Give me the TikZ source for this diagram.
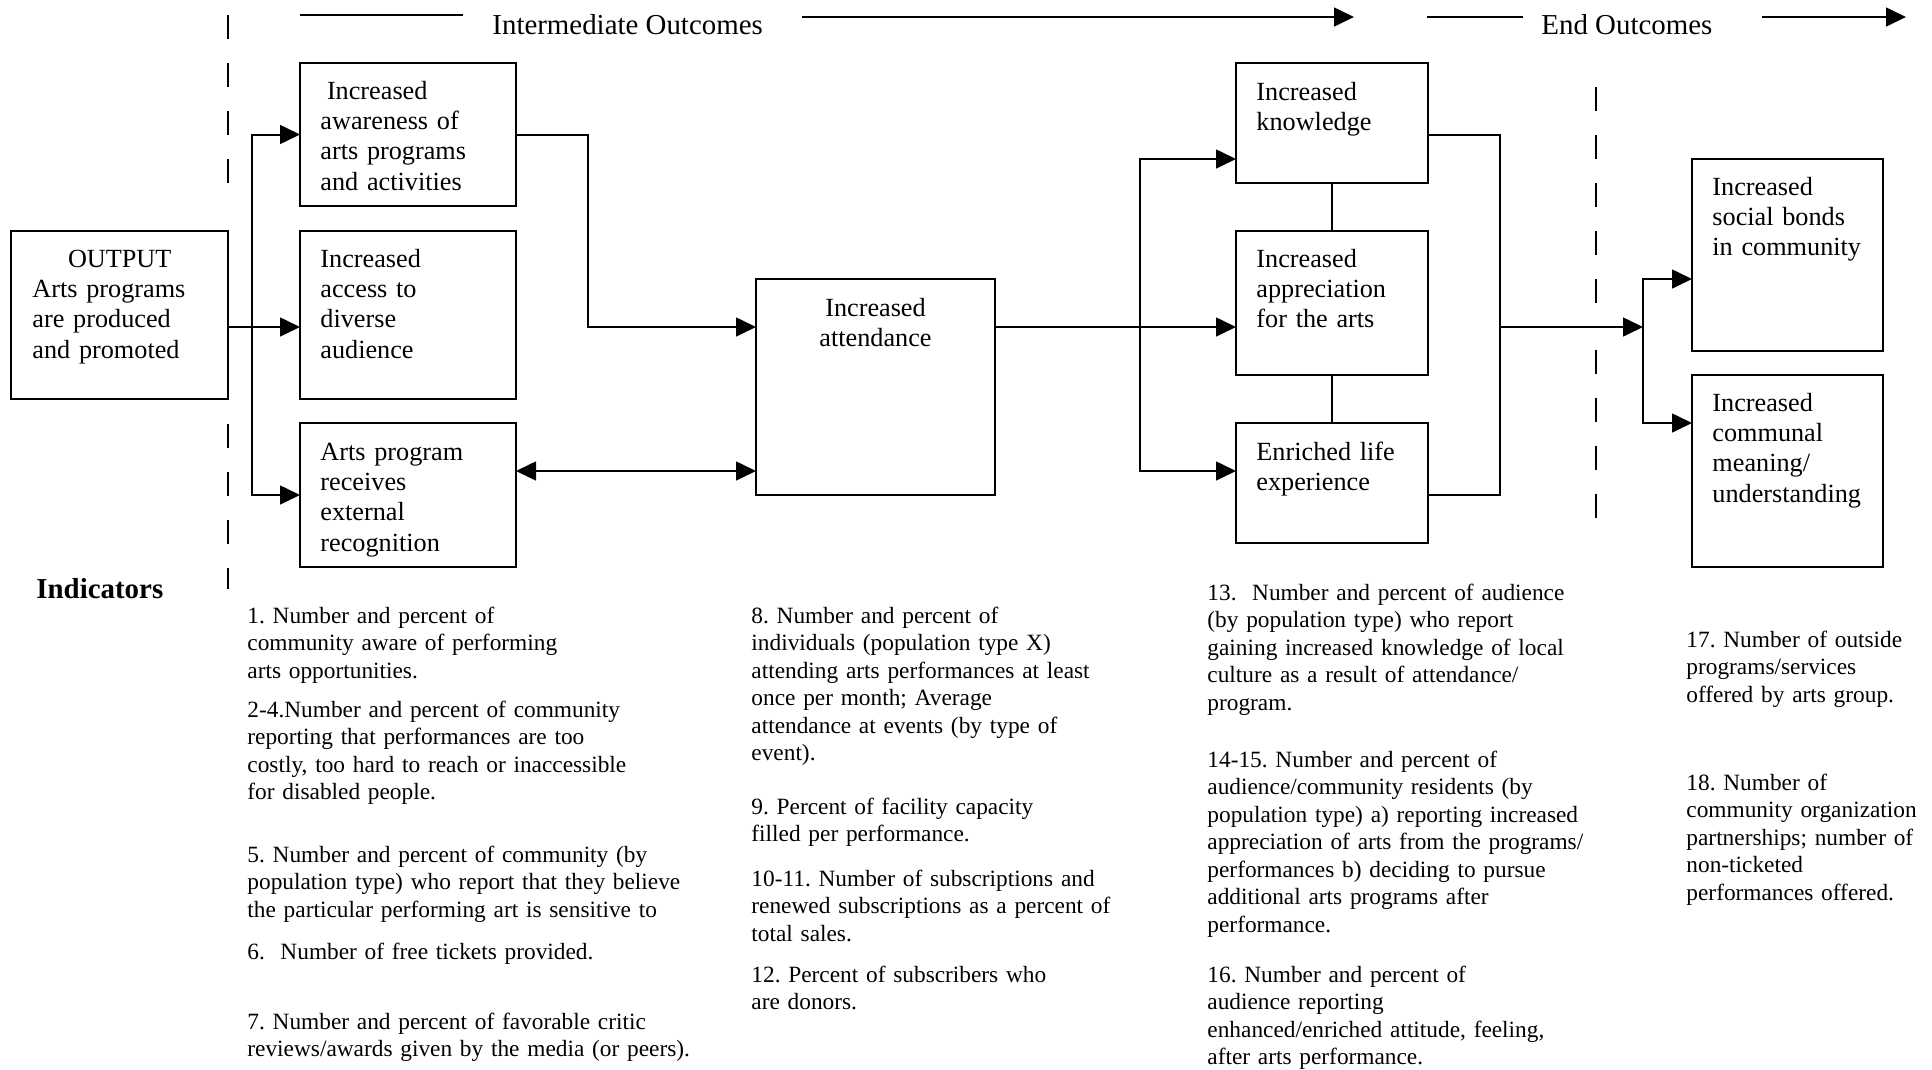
\documentclass[tikz,border=0pt]{standalone}
\usepackage{fontspec}
\setmainfont{Liberation Serif}
\usetikzlibrary{arrows.meta}
\frenchspacing
\begin{document}
\frenchspacing
\begin{tikzpicture}[x=0.45pt,y=-0.45pt,
  box/.style={draw,line width=1pt,inner sep=0pt,outer sep=0pt},
  btxt/.style={inner sep=0pt,anchor=base west,text width=110pt,align=left,font=\fontsize{11.8}{13.7}\selectfont},
  itxt/.style={inner sep=0pt,anchor=base west,text width=205pt,align=left,font=\fontsize{10.5}{12.4}\selectfont},
  htxt/.style={inner sep=0pt,anchor=base west,font=\fontsize{13}{15}\selectfont},
  ln/.style={line width=0.9pt},
  arr/.style={ln,-{Triangle[length=9pt,width=8.5pt]}},
  dbl/.style={ln,{Triangle[length=9pt,width=8.5pt]}-{Triangle[length=9pt,width=8.5pt]}},
  dsh/.style={ln,dash pattern=on 10.8pt off 10.8pt},
]
\useasboundingbox (0,0) rectangle (1932,1070);

% boxes
\node[box,minimum width=97.65pt,minimum height=75.6pt] (out) at (119.5,315) {};
\node[box,minimum width=97.2pt,minimum height=64.35pt] (A) at (408,134.5) {};
\node[box,minimum width=97.2pt,minimum height=75.6pt] (B) at (408,315) {};
\node[box,minimum width=97.2pt,minimum height=64.8pt] (C) at (408,495) {};
\node[box,minimum width=107.55pt,minimum height=97.2pt] (att) at (875.5,387) {};
\node[box,minimum width=86.4pt,minimum height=54pt] (K) at (1332,123) {};
\node[box,minimum width=86.4pt,minimum height=64.8pt] (P) at (1332,303) {};
\node[box,minimum width=86.4pt,minimum height=54pt] (E) at (1332,483) {};
\node[box,minimum width=85.95pt,minimum height=86.4pt] (S) at (1787.5,255) {};
\node[box,minimum width=85.95pt,minimum height=86.4pt] (M) at (1787.5,471) {};

% box texts
\node[btxt] (outT) at (32,267) {\hspace*{16pt}OUTPUT\\Arts programs\\are produced\\and promoted};
\node[btxt] (AT) at (320,99) {\hspace*{0.25em}Increased\\awareness of\\arts programs\\and activities};
\node[btxt] (BT) at (320,267) {Increased\\access to\\diverse\\audience};
\node[btxt] (CT) at (320,460) {Arts program\\receives\\external\\recognition};
\node[btxt,align=center,anchor=base,text width=107pt] (attT) at (875.5,316) {Increased\\attendance};
\node[btxt] (KT) at (1256,100) {Increased\\knowledge};
\node[btxt] (PT) at (1256,267) {Increased\\appreciation\\for the arts};
\node[btxt] (ET) at (1256,460) {Enriched life\\experience};
\node[btxt] (ST) at (1712,195) {Increased\\social bonds\\in community};
\node[btxt] (MT) at (1712,411) {Increased\\communal\\meaning/\\understanding};

% header
\coordinate (h1a) at (300,15); \coordinate (h1b) at (463,15);
\draw[ln] (h1a) -- (h1b);
\node[htxt] (io) at (492,34.3) {Intermediate Outcomes};
\coordinate (h2a) at (802,17); \coordinate (h2b) at (1354,17);
\draw[arr] (h2a) -- (h2b);
\coordinate (h3a) at (1427,17); \coordinate (h3b) at (1523,17);
\draw[ln] (h3a) -- (h3b);
\node[htxt] (endo) at (1541,34.3) {End Outcomes};
\coordinate (h4a) at (1762,17); \coordinate (h4b) at (1906,17);
\draw[arr] (h4a) -- (h4b);

% dashed separators
\coordinate (d1a) at (228,15); \coordinate (d1b) at (228,190);
\coordinate (d1c) at (228,424); \coordinate (d1d) at (228,589);
\draw[dsh] (d1a) -- (d1b);
\draw[dsh] (d1c) -- (d1d);
\coordinate (d2a) at (1596,87); \coordinate (d2b) at (1596,303);
\coordinate (d2c) at (1596,350); \coordinate (d2d) at (1596,519);
\draw[dsh] (d2a) -- (d2b);
\draw[dsh] (d2c) -- (d2d);

% connectors
\coordinate (sp) at (0,327);
\coordinate (xj) at (252,0);
\draw[arr] (out.east|-sp) -- (B.west|-sp);
\draw[arr] (C.west-|xj) -- (A.west-|xj) -- (A.west);
\draw[arr] (A.west-|xj) -- (C.west-|xj) -- (C.west);
\coordinate (xa) at (588,0);
\draw[arr] (A.east) -- (A.east-|xa) -- (xa|-sp) -- (att.west|-sp);
\coordinate (dy) at (0,471);
\draw[dbl] (C.east|-dy) -- (att.west|-dy);
\draw[arr] (att.east|-sp) -- (P.west|-sp);
\coordinate (xb) at (1140,0);
\coordinate (ky) at (0,159);
\coordinate (ey) at (0,471);
\draw[arr] (xb|-ey) -- (xb|-ky) -- (K.west|-ky);
\draw[arr] (xb|-ky) -- (xb|-ey) -- (E.west|-ey);
\draw[ln] (K.south) -- (P.north);
\draw[ln] (P.south) -- (E.north);
\coordinate (xr) at (1500,0);
\coordinate (ko) at (0,135);
\coordinate (eo) at (0,495);
\draw[ln] (K.east|-ko) -- (xr|-ko) -- (xr|-eo) -- (E.east|-eo);
\coordinate (sj) at (1643,327);
\draw[arr] (xr|-sp) -- (sj);
\coordinate (sy) at (0,279);
\coordinate (my) at (0,423);
\draw[arr] (sj) -- (sj|-sy) -- (S.west|-sy);
\draw[arr] (sj) -- (sj|-my) -- (M.west|-my);

% indicators
\node[htxt,font=\fontsize{13}{15}\selectfont\bfseries] (ind) at (36,598.5) {Indicators};

\node[itxt] (i1) at (247,623) {1. Number and percent of\\community aware of performing\\arts opportunities.};
\node[itxt] (i2) at (247,717) {2-4.Number and percent of community\\reporting that performances are too\\costly, too hard to reach or inaccessible\\for disabled people.};
\node[itxt] (i5) at (247,862) {5. Number and percent of community (by\\population type) who report that they believe\\the particular performing art is sensitive to};
\node[itxt] (i6) at (247,959) {6.\ \ Number of free tickets provided.};
\node[itxt] (i7) at (247,1029) {7. Number and percent of favorable critic\\reviews/awards given by the media (or peers).};

\node[itxt] (i8) at (751,623) {8. Number and percent of\\individuals (population type X)\\attending arts performances at least\\once per month; Average\\attendance at events (by type of\\event).};
\node[itxt] (i9) at (751,814) {9. Percent of facility capacity\\filled per performance.};
\node[itxt] (i10) at (751,886) {10-11. Number of subscriptions and\\renewed subscriptions as a percent of\\total sales.};
\node[itxt] (i12) at (751,982) {12. Percent of subscribers who\\are donors.};

\node[itxt] (i13) at (1207,600) {13.\ \ Number and percent of audience\\(by population type) who report\\gaining increased knowledge of local\\culture as a result of attendance/\\program.};
\node[itxt] (i14) at (1207,767) {14-15. Number and percent of\\audience/community residents (by\\population type) a) reporting increased\\appreciation of arts from the programs/\\performances b) deciding to pursue\\additional arts programs after\\performance.};
\node[itxt] (i16) at (1207,982) {16. Number and percent of\\audience reporting\\enhanced/enriched attitude, feeling,\\after arts performance.};

\node[itxt] (i17) at (1686,647) {17. Number of outside\\programs/services\\offered by arts group.};
\node[itxt] (i18) at (1686,790) {18. Number of\\community organization\\partnerships; number of\\non-ticketed\\performances offered.};
\end{tikzpicture}
\end{document}
